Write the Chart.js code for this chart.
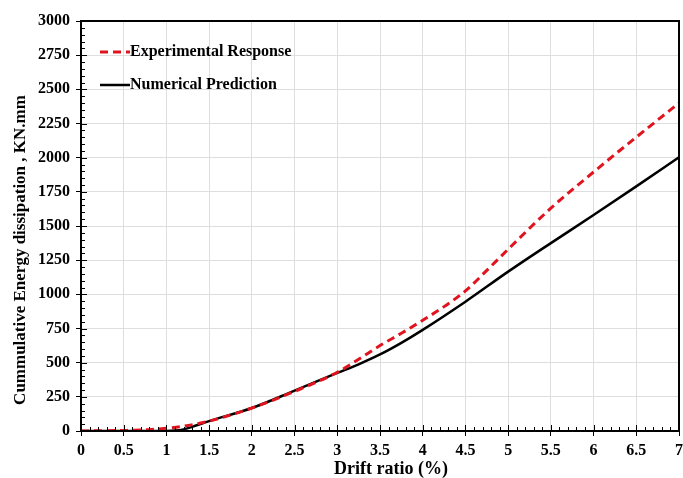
<!DOCTYPE html>
<html>
<head>
<meta charset="utf-8">
<script src="https://cdn.jsdelivr.net/npm/chart.js@4/dist/chart.umd.min.js"></script>
<style>
  html, body { margin: 0; padding: 0; background: #fff; }
  #wrap { width: 683px; height: 478px; }
</style>
</head>
<body>
<div id="wrap"><canvas id="chart" width="683" height="478"></canvas></div>
<script>
// drift ratio (%) vs cumulative energy (KN.mm)
const driftExp = [0, 0.5, 0.8, 1, 1.2, 1.4, 1.5, 2, 2.5, 3, 3.25, 3.5, 3.75, 4, 4.25, 4.5, 4.75, 5, 5.5, 6, 6.5, 7];
const energyExp = [0, 4, 10, 20, 35, 58, 72, 168, 290, 430, 525, 625, 715, 810, 910, 1025, 1175, 1330, 1630, 1895, 2150, 2400];

const driftNum = [0, 0.5, 1, 1.1, 1.2, 1.3, 1.5, 2, 2.5, 3, 3.25, 3.5, 3.75, 4, 4.5, 5, 5.5, 6, 6.5, 7];
const energyNum = [0, 0, 0, 3, 12, 30, 72, 168, 295, 425, 488, 560, 645, 740, 946, 1166, 1375, 1580, 1790, 2003];

const xTicks = [0, 0.5, 1, 1.5, 2, 2.5, 3, 3.5, 4, 4.5, 5, 5.5, 6, 6.5, 7];
const seriesNames = ['Experimental Response', 'Numerical Prediction'];
const xTitle = 'Drift ratio (%)';
const yTitle = 'Cummulative Energy dissipation , KN.mm';

const serif = "'Liberation Serif', 'Times New Roman', serif";

function toPoints(xs, ys) {
    return xs.map((x, i) => ({ x: x, y: ys[i] }));
}

// frame, minor ticks, axis titles and the legend inside the plot
const decorations = {
    id: 'decorations',
    afterDatasetsDraw(chart) {
        const ctx = chart.ctx;
        const area = chart.chartArea;
        const xs = chart.scales.x;
        const ys = chart.scales.y;
        ctx.save();
        ctx.strokeStyle = '#000';
        ctx.lineWidth = 1;
        ctx.beginPath();
        for (let i = 1; i < 70; i++) {
            const px = Math.round(xs.getPixelForValue(i / 10)) + 0.5;
            const len = i % 5 === 0 ? 6 : 4;
            ctx.moveTo(px, area.bottom);
            ctx.lineTo(px, area.bottom - len);
        }
        for (let v = 50; v < 3000; v += 50) {
            const py = Math.round(ys.getPixelForValue(v)) + 0.5;
            const len = v % 250 === 0 ? 6 : 4;
            ctx.moveTo(area.left, py);
            ctx.lineTo(area.left + len, py);
        }
        ctx.stroke();

        ctx.lineWidth = 2;
        ctx.strokeRect(area.left, area.top, area.right - area.left, area.bottom - area.top);

        ctx.fillStyle = '#000';
        ctx.textAlign = 'center';
        ctx.textBaseline = 'middle';

        // x axis title
        ctx.font = 'bold 18px ' + serif;
        ctx.fillText(xTitle, 391, 469);

        // y axis title
        ctx.save();
        ctx.translate(21, 250);
        ctx.rotate(-Math.PI / 2);
        ctx.font = 'bold 17px ' + serif;
        ctx.fillText(yTitle, 0, 0);
        ctx.restore();

        // legend
        ctx.font = 'bold 16px ' + serif;
        ctx.textAlign = 'left';
        chart.data.datasets.forEach((ds, i) => {
            const y = 52 + i * 33;
            ctx.beginPath();
            ctx.strokeStyle = ds.borderColor;
            ctx.lineWidth = ds.borderWidth;
            ctx.setLineDash(ds.borderDash || []);
            ctx.moveTo(100, y);
            ctx.lineTo(130, y);
            ctx.stroke();
            ctx.setLineDash([]);
            ctx.fillText(ds.label, 130, y);
        });
        ctx.restore();
    }
};

new Chart(document.getElementById('chart'), {
    type: 'line',
    data: {
        datasets: [{
            label: seriesNames[0],
            data: toPoints(driftExp, energyExp),
            borderColor: '#e0141e',
            borderWidth: 3,
            borderDash: [8, 5],
            pointRadius: 0,
            cubicInterpolationMode: 'monotone',
            order: 1
        }, {
            label: seriesNames[1],
            data: toPoints(driftNum, energyNum),
            borderColor: '#000000',
            borderWidth: 2.5,
            pointRadius: 0,
            cubicInterpolationMode: 'monotone',
            order: 2
        }]
    },
    options: {
        responsive: false,
        animation: false,
        layout: { padding: { top: 21, right: 4, left: 0, bottom: 0 } },
        plugins: {
            legend: { display: false },
            tooltip: { enabled: false }
        },
        scales: {
            x: {
                type: 'linear',
                min: 0,
                max: 7,
                afterBuildTicks: (scale) => { scale.ticks = xTicks.map(v => ({ value: v })); },
                afterFit: (scale) => {
                    scale.height = 47;
                    scale.paddingLeft = 0;
                    scale.paddingRight = 0;
                },
                grid: { color: '#dedede', tickColor: '#000', tickLength: 5, lineWidth: 1 },
                border: { color: '#000', width: 2 },
                ticks: {
                    color: '#000',
                    padding: 5,
                    maxRotation: 0,
                    callback: (v) => String(v),
                    font: { family: serif, size: 16, weight: 'bold' }
                }
            },
            y: {
                min: 0,
                max: 3000,
                afterFit: (scale) => {
                    scale.width = 81;
                    scale.paddingTop = 0;
                    scale.paddingBottom = 0;
                },
                grid: { color: '#dedede', tickColor: '#000', tickLength: 5, lineWidth: 1 },
                border: { color: '#000', width: 2 },
                ticks: {
                    stepSize: 250,
                    color: '#000',
                    padding: 6,
                    callback: (v) => String(v),
                    font: { family: serif, size: 16, weight: 'bold' }
                }
            }
        }
    },
    plugins: [decorations]
});
</script>
</body>
</html>
